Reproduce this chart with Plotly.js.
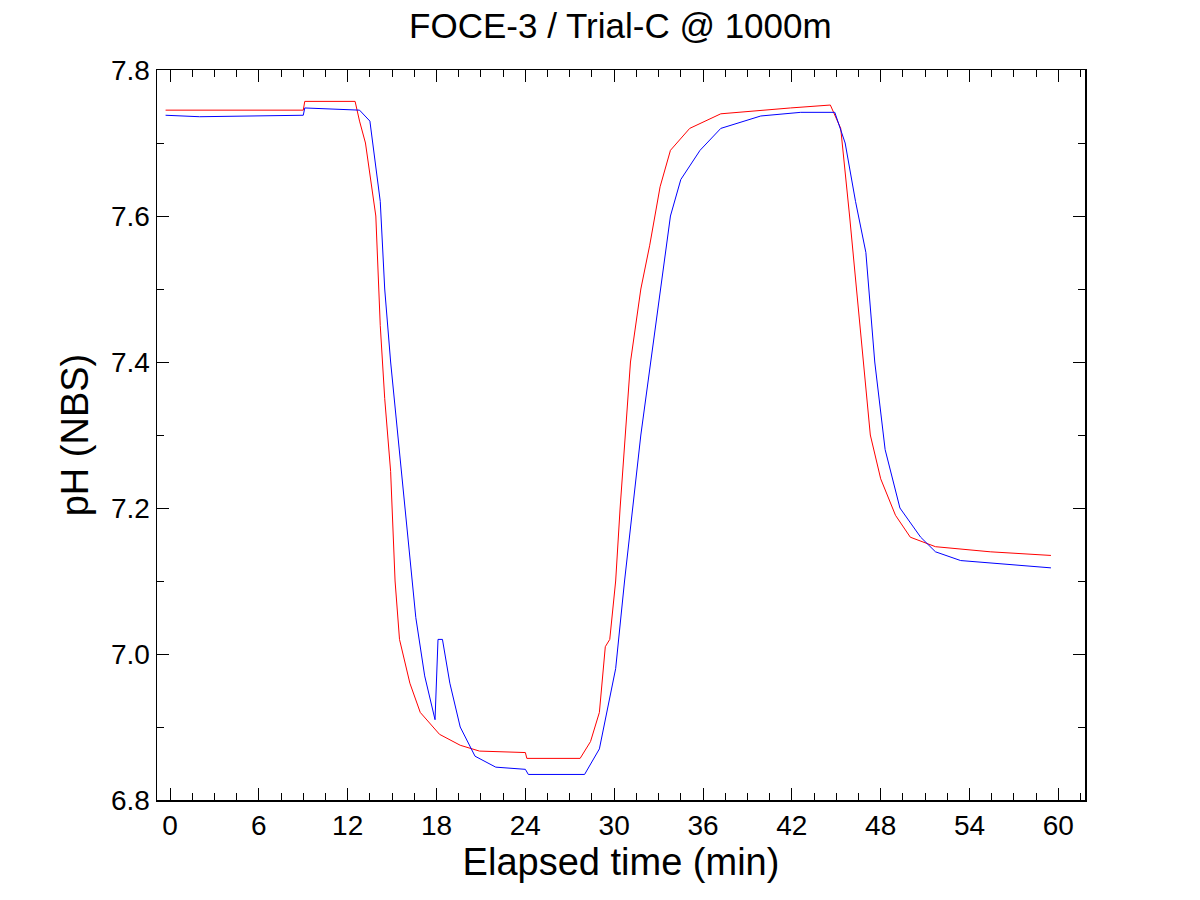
<!DOCTYPE html>
<html>
<head>
<meta charset="utf-8">
<script src="https://cdn.plot.ly/plotly-3.0.1.min.js"></script>
<style>body{margin:0;background:#fff}#chart{width:1200px;height:900px}</style>
</head>
<body>
<div id="chart"></div>
<script>
// Red sensor trace (time in min, pH NBS)
const redTime = [-0.3, 9.0, 9.1, 12.5, 12.8, 13.2, 13.9, 14.2, 14.5, 14.9, 15.2, 15.5, 16.2, 16.9, 18.2, 19.6, 20.9, 24.0, 24.1, 27.7, 28.4, 29.0, 29.4, 29.7, 30.1, 30.4, 31.1, 31.8, 32.4, 33.1, 33.8, 35.1, 37.2, 39.9, 41.9, 44.6, 45.3, 45.9, 46.6, 47.3, 48.0, 49.0, 50.0, 51.7, 55.4, 59.5];
const redPH = [7.745, 7.745, 7.757, 7.757, 7.73, 7.70, 7.60, 7.45, 7.35, 7.25, 7.10, 7.02, 6.96, 6.92, 6.89, 6.875, 6.867, 6.865, 6.857, 6.857, 6.88, 6.92, 7.01, 7.02, 7.10, 7.20, 7.40, 7.50, 7.56, 7.64, 7.69, 7.72, 7.74, 7.745, 7.748, 7.752, 7.72, 7.60, 7.45, 7.30, 7.24, 7.19, 7.16, 7.147, 7.14, 7.135];

// Blue sensor trace
const blueTime = [-0.3, 2.0, 9.0, 9.1, 12.8, 13.5, 14.2, 14.5, 14.9, 15.5, 15.9, 16.6, 17.2, 17.9, 18.1, 18.4, 18.9, 19.6, 20.6, 22.0, 24.0, 24.2, 28.0, 29.0, 30.1, 30.7, 31.8, 32.8, 33.8, 34.5, 35.8, 37.2, 39.9, 42.6, 44.9, 45.6, 46.3, 47.0, 47.6, 48.3, 49.3, 50.7, 51.7, 53.4, 59.5];
const bluePH = [7.738, 7.736, 7.738, 7.748, 7.745, 7.73, 7.62, 7.50, 7.40, 7.28, 7.20, 7.05, 6.97, 6.91, 7.02, 7.02, 6.96, 6.90, 6.86, 6.845, 6.842, 6.835, 6.835, 6.87, 6.98, 7.10, 7.30, 7.45, 7.60, 7.65, 7.69, 7.72, 7.737, 7.742, 7.742, 7.70, 7.62, 7.55, 7.40, 7.28, 7.20, 7.16, 7.14, 7.128, 7.118];

const xTicks = [0, 6, 12, 18, 24, 30, 36, 42, 48, 54, 60];
const yTicks = [6.8, 7.0, 7.2, 7.4, 7.6, 7.8];

const traces = [
  { x: redTime, y: redPH, mode: "lines", line: { color: "#ff0000", width: 1 } },
  { x: blueTime, y: bluePH, mode: "lines", line: { color: "#0000ff", width: 1 } },
];

const axisBase = {
  showline: true, mirror: "allticks", linecolor: "#000", linewidth: 1.5,
  ticks: "inside", ticklen: 12, tickcolor: "#000", showgrid: false, zeroline: false,
  tickfont: { family: "Liberation Sans, Arial", size: 28, color: "#000" },
};

const layout = {
  width: 1200, height: 900,
  margin: { l: 157, r: 115, t: 70, b: 100 },
  paper_bgcolor: "#fff", plot_bgcolor: "#fff",
  showlegend: false,
  title: { text: "FOCE-3 / Trial-C @ 1000m", x: 0.517, y: 0.985, yanchor: "top",
    font: { family: "Liberation Sans, Arial", size: 35, color: "#000" } },
  xaxis: Object.assign({}, axisBase, {
    range: [-0.88, 61.8], tickvals: xTicks,
    minor: { dtick: 1.5, tick0: 0, ticks: "inside", ticklen: 7, tickcolor: "#000" },
    title: { text: "Elapsed time (min)", standoff: 4,
      font: { family: "Liberation Sans, Arial", size: 38, color: "#000" } },
  }),
  yaxis: Object.assign({}, axisBase, {
    range: [6.8, 7.8], tickvals: yTicks, tickformat: ".1f",
    minor: { dtick: 0.1, tick0: 6.8, ticks: "inside", ticklen: 7, tickcolor: "#000" },
    title: { text: "pH (NBS)", standoff: 10,
      font: { family: "Liberation Sans, Arial", size: 38, color: "#000" } },
  }),
};

Plotly.newPlot("chart", traces, layout, { displayModeBar: false, staticPlot: true });
</script>
</body>
</html>
